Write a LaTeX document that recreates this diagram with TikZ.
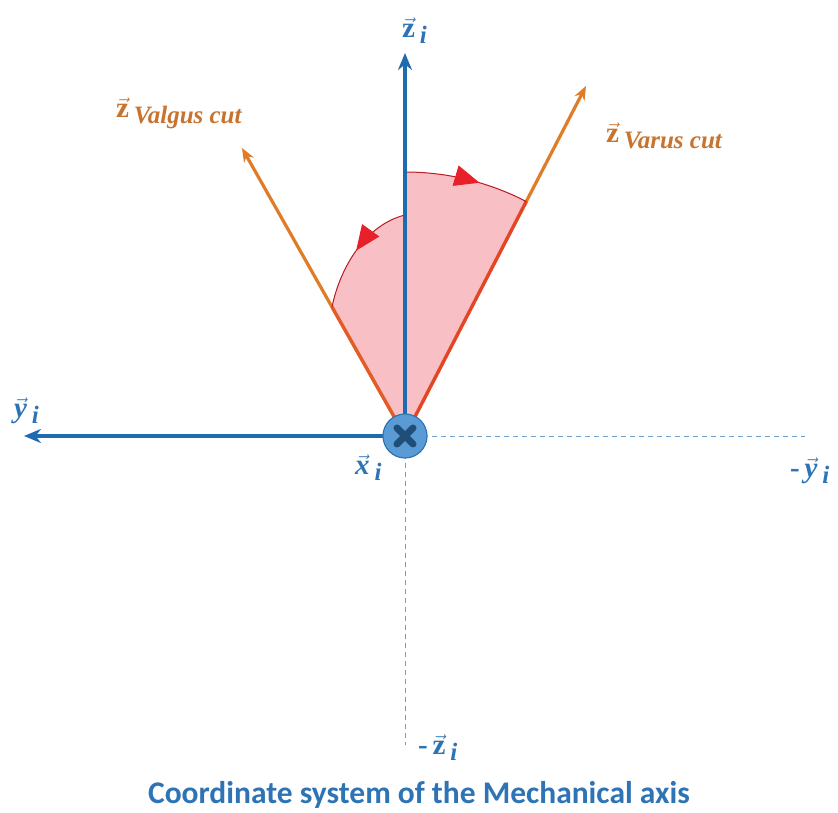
\documentclass[tikz,border=0pt]{standalone}
\usepackage{fontspec}
\setsansfont{Carlito}
\newfontfamily\labfont{Liberation Serif}
\usetikzlibrary{arrows.meta,decorations.markings,calc}
\definecolor{axblue}{HTML}{1F6BB0}
\definecolor{txtblue}{HTML}{2E74B5}
\definecolor{cutorange}{HTML}{E07B28}
\definecolor{cuttxt}{HTML}{C8732E}
\definecolor{pinkfill}{HTML}{F8BFC4}
\definecolor{arcred}{HTML}{E8202A}
\definecolor{circfill}{HTML}{5B9BD5}
\definecolor{circedge}{HTML}{2E75B6}
\definecolor{xdark}{HTML}{1F4E79}
\newcommand{\subi}[1]{\raisebox{-6pt}{\itshape\fontsize{25}{25}\selectfont #1}}
\newcommand{\vz}{$\vec{\mbox{\labfont\bfseries z}}$}
\newcommand{\vy}{$\vec{\mbox{\labfont\bfseries\itshape y}}$}
\newcommand{\vx}{$\vec{\mbox{\labfont\bfseries\itshape x}}$}
\tikzset{
  axis/.style={draw=axblue, line width=4pt, -{Stealth[length=17pt,width=14pt]}},
  dashaxis/.style={draw=axblue!65, line width=0.8pt, dash pattern=on 5pt off 4pt},
  cutaxis/.style={draw=cutorange, line width=3.2pt, -{Stealth[length=14pt,width=11pt]}},
  bluelab/.style={text=txtblue, font=\labfont\bfseries\fontsize{29}{29}\selectfont, inner sep=0pt},
  orangelab/.style={text=cuttxt, font=\labfont\bfseries\fontsize{29}{29}\selectfont, inner sep=0pt},
  arcline/.style={draw=arcred!80!black, line width=1pt},
  tri/.style={postaction={decorate}, decoration={markings, mark=at position #1 with {\arrow{Triangle[length=25pt,width=21pt,color=arcred]}}}}
}
\begin{document}
\begin{tikzpicture}[x=1pt,y=1pt]
\useasboundingbox (0,0) rectangle (838,813);
% key points
\coordinate (O) at (405,377);
\coordinate (ztip) at (405,760);
\coordinate (zneg) at (405,68);
\coordinate (ytip) at (24,377);
\coordinate (yneg) at (805,377);
\coordinate (vartip) at (586,727);
\coordinate (valtip) at (242,665);
\coordinate (varend) at ($(O)+(62.65:264)$);
\coordinate (valend) at (332,506);
\coordinate (lstart) at (405,598);
\coordinate (rstart) at (405,641);
% pink sector
\fill[pinkfill] (O) -- (valend) .. controls (340,545) and (365,588) .. (lstart) -- (rstart) arc[start angle=90,end angle=62.65,radius=264] -- cycle;
% dashed negatives
\draw[dashaxis] (O) -- (yneg);
\draw[dashaxis] (O) -- (zneg);
% cut axes
\draw[cutaxis] (O) -- (vartip);
\draw[cutaxis] (O) -- (valtip);
\draw[draw=arcred!60!cutorange, line width=3.2pt] (O) -- (varend);
\draw[draw=arcred!35!cutorange, line width=3.2pt] (O) -- (valend);
% arcs
\draw[arcline, tri=0.6] (rstart) arc[start angle=90,end angle=62.65,radius=264];
\draw[arcline, tri=0.5] (lstart) .. controls (365,588) and (340,545) .. (valend);
% main axes
\draw[axis] (O) -- (ztip);
\draw[axis] (O) -- (ytip);
% origin
\node[circle, minimum size=44pt, fill=circfill, draw=circedge, line width=1.2pt] (orig) at (O) {};
\draw[xdark, line width=7pt, line cap=round] ($(O)+(-8,-8)$) -- ($(O)+(8,8)$) ($(O)+(-8,8)$) -- ($(O)+(8,-8)$);
% labels
\node[bluelab, anchor=base west] (zl) at (402,775) {\vz\,\subi{i}};
\node[orangelab, anchor=base west] (vall) at (116,695) {\vz\,\subi{Valgus cut}};
\node[orangelab, anchor=base west] (varl) at (606,670) {\vz\,\subi{Varus cut}};
\node[bluelab, anchor=base west] (yl) at (14,395) {\vy\,\subi{i}};
\node[bluelab, anchor=base west] (xl) at (355,338) {\vx\,\subi{i}};
\node[bluelab, anchor=base west] (ynl) at (790,335) {-\,\vy\,\subi{i}};
\node[bluelab, anchor=base west] (znl) at (418,58) {-\,\vz\,\subi{i}};
\node[text=txtblue, inner sep=0pt, anchor=base, font=\sffamily\bfseries\fontsize{31.5}{31.5}\selectfont] (title) at (419,9) {Coordinate system of the Mechanical axis};
\end{tikzpicture}
\end{document}
